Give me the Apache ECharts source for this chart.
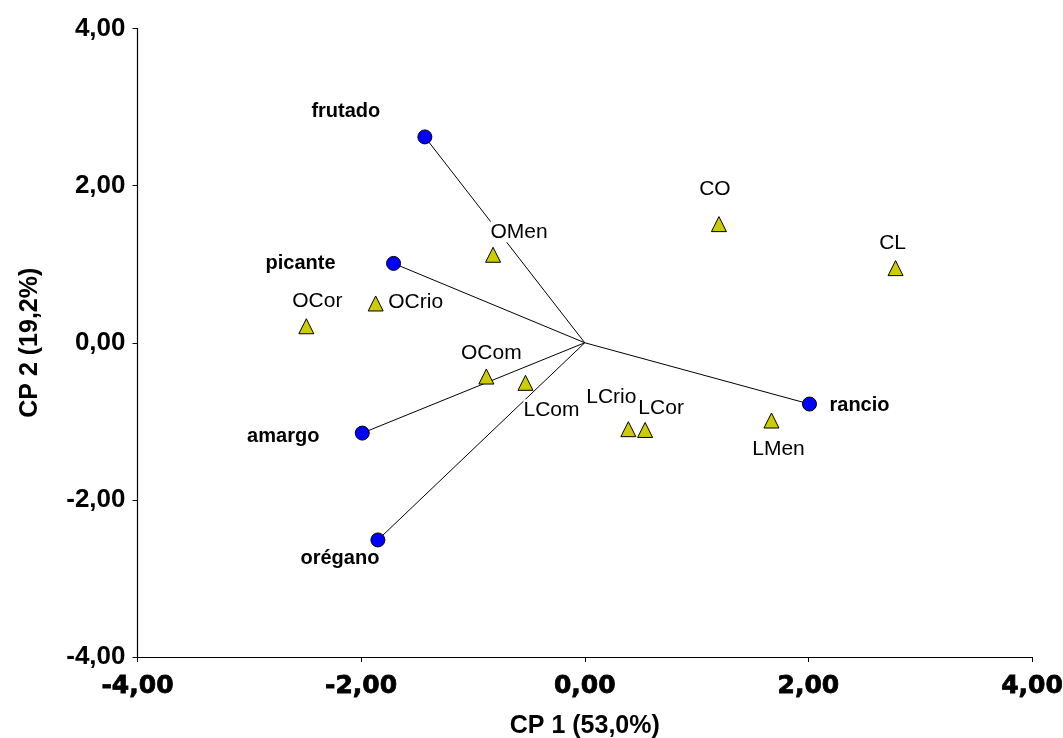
<!DOCTYPE html>
<html>
<head>
<meta charset="utf-8">
<script src="https://cdn.jsdelivr.net/npm/echarts@6/dist/echarts.min.js"></script>
<style>
  html, body { margin: 0; padding: 0; background: #fff; }
  #chart { width: 1063px; height: 738px; }
</style>
</head>
<body>
<div id="chart"></div>
<script>
// Principal component biplot: sensory attributes (vectors) and samples (scores)
const attrNames = ['frutado', 'picante', 'amargo', 'orégano', 'rancio'];
const attrX = [-1.43, -1.71, -1.99, -1.85, 2.01];
const attrY = [2.62, 1.01, -1.15, -2.51, -0.78];

const sampleNames = ['OMen', 'CO', 'CL', 'OCor', 'OCrio', 'OCom', 'LCom', 'LCor', 'LCrio', 'LMen'];
const sampleX = [-0.82, 1.20, 2.78, -2.49, -1.87, -0.88, -0.53, 0.54, 0.39, 1.67];
const sampleY = [1.12, 1.51, 0.95, 0.21, 0.50, -0.43, -0.51, -1.11, -1.10, -0.99];

const axisTicks = [-4, -2, 0, 2, 4];
const xTitle = 'CP 1 (53,0%)';
const yTitle = 'CP 2 (19,2%)';

// label placement (pixel offsets from each mark's centre)
const attrLabelOffset = {
  'frutado': [-79, -25], 'picante': [-93, 0], 'amargo': [-79, 3],
  'orégano': [-38, 19], 'rancio': [50, 1]
};
const sampleLabelOffset = {
  'OMen': [26, -23], 'CO': [-4, -35], 'CL': [-3, -25], 'OCor': [11, -25],
  'OCrio': [40, -1], 'OCom': [5, -23], 'LCom': [26, 27], 'LCor': [16, -22],
  'LCrio': [-17, -32], 'LMen': [7, 29]
};

const fmt = v => v.toFixed(2).replace('.', ',');
const FONT = '"Liberation Sans", Arial, sans-serif';

const series = [];

// vectors from origin to each attribute
attrNames.forEach((n, i) => {
  series.push({
    type: 'line',
    data: [[0, 0], [attrX[i], attrY[i]]],
    symbol: 'none',
    silent: true,
    lineStyle: { color: '#000', width: 1 },
    z: 1
  });
});

function shiftLabels(names, offsets) {
  return p => {
    const o = offsets[names[p.dataIndex]] || [0, 0];
    return { dx: o[0], dy: o[1], hideOverlap: false, moveOverlap: null };
  };
}

series.push({
  type: 'scatter',
  name: 'samples',
  symbol: 'triangle',
  symbolSize: [15, 15],
  itemStyle: { color: '#CCCC00', borderColor: '#000', borderWidth: 1, opacity: 1 },
  z: 3,
  data: sampleNames.map((n, i) => ({ value: [sampleX[i], sampleY[i]], name: n })),
  label: {
    show: true,
    position: 'inside',
    formatter: p => p.name,
    color: '#000',
    textBorderWidth: 0,
    fontFamily: FONT,
    fontSize: 21,
    backgroundColor: '#fff',
    padding: 0
  },
  labelLayout: shiftLabels(sampleNames, sampleLabelOffset)
});

series.push({
  type: 'scatter',
  name: 'attributes',
  symbol: 'circle',
  symbolSize: 14,
  itemStyle: { color: '#0000FF', borderColor: '#000', borderWidth: 1, opacity: 1 },
  z: 4,
  data: attrNames.map((n, i) => ({ value: [attrX[i], attrY[i]], name: n })),
  label: {
    show: true,
    position: 'inside',
    formatter: p => p.name,
    color: '#000',
    textBorderWidth: 0,
    fontFamily: FONT,
    fontWeight: 'bold',
    fontSize: 20
  },
  labelLayout: shiftLabels(attrNames, attrLabelOffset)
});

const chart = echarts.init(document.getElementById('chart'), null, { renderer: 'canvas' });
chart.setOption({
  backgroundColor: '#fff',
  animation: false,
  grid: {
    left: 137.5, right: 31, top: 28.5, bottom: 81,
    containLabel: false, outerBoundsMode: 'none'
  },
  xAxis: {
    type: 'value',
    min: axisTicks[0],
    max: axisTicks[axisTicks.length - 1],
    interval: 2,
    position: 'bottom',
    axisLine: { onZero: false, lineStyle: { color: '#000', width: 1.2 } },
    axisTick: { show: true, inside: false, length: 5, lineStyle: { color: '#000' } },
    splitLine: { show: false },
    axisLabel: {
      formatter: fmt,
      margin: 17,
      color: '#000',
      fontFamily: '"DejaVu Sans", sans-serif',
      fontWeight: 'bold',
      fontSize: 25,
      textBorderColor: '#000',
      textBorderWidth: 0.8
    },
    name: xTitle,
    nameLocation: 'middle',
    nameGap: 57,
    nameTextStyle: { color: '#000', fontFamily: FONT, fontWeight: 'bold', fontSize: 25 }
  },
  yAxis: {
    type: 'value',
    min: axisTicks[0],
    max: axisTicks[axisTicks.length - 1],
    interval: 2,
    axisLine: { onZero: false, lineStyle: { color: '#000', width: 1.2 } },
    axisTick: { show: true, inside: false, length: 5, lineStyle: { color: '#000' } },
    splitLine: { show: false },
    axisLabel: {
      formatter: fmt,
      margin: 12,
      color: '#000',
      fontFamily: FONT,
      fontWeight: 'bold',
      fontSize: 26
    },
    name: yTitle,
    nameLocation: 'middle',
    nameGap: 95,
    nameRotate: 90,
    nameTextStyle: { color: '#000', fontFamily: FONT, fontWeight: 'bold', fontSize: 25 }
  },
  series: series
});
</script>
</body>
</html>
